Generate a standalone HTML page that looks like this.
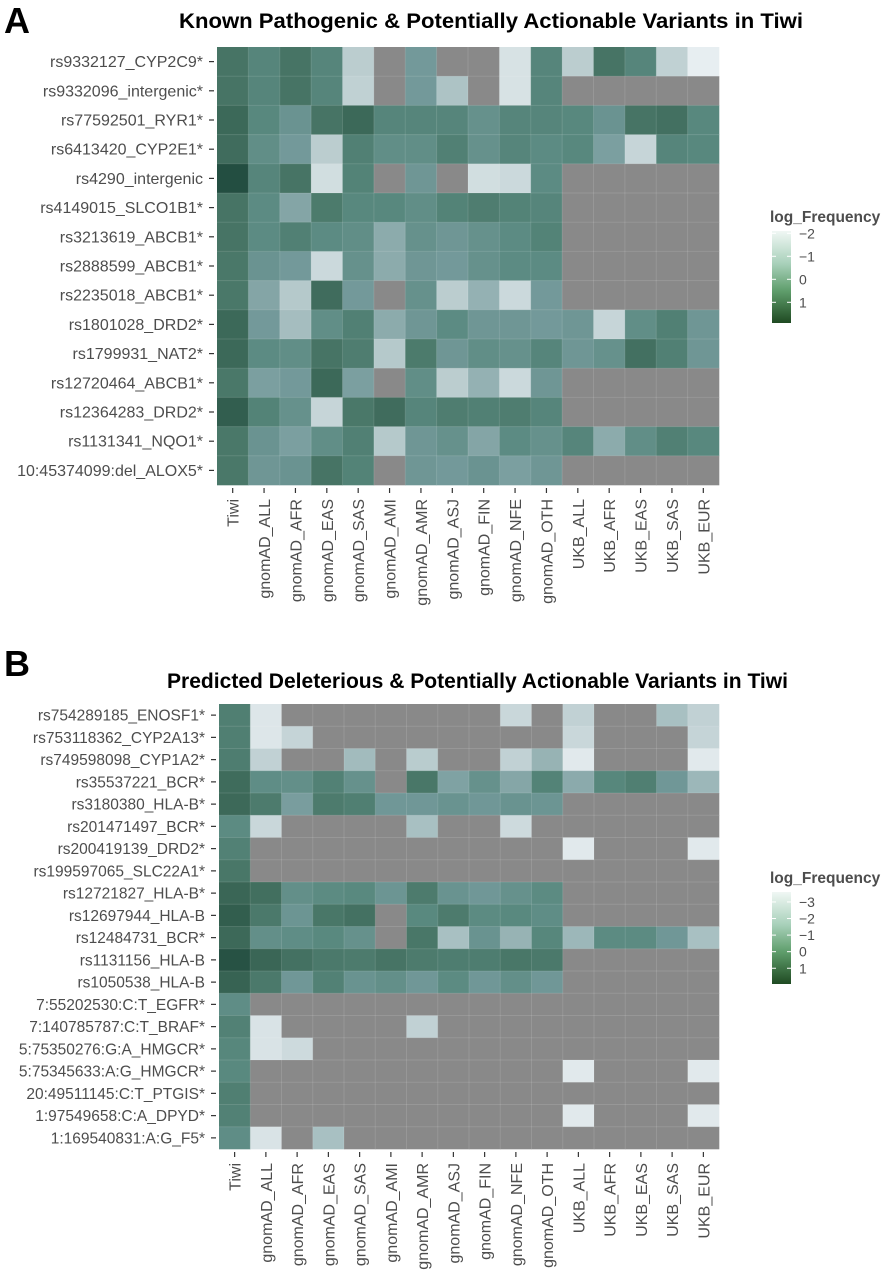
<!DOCTYPE html>
<html><head><meta charset="utf-8"><style>
body{margin:0;background:#fff;}
svg{display:block;font-family:"Liberation Sans",Arial,sans-serif;}
</style></head><body>
<svg id="fig" width="886" height="1272" viewBox="0 0 886 1272">
<text x="4" y="33" font-size="36" font-weight="bold" fill="#000">A</text>
<text x="179" y="28" font-size="21" font-weight="bold" textLength="624" lengthAdjust="spacingAndGlyphs" fill="#000">Known Pathogenic &amp; Potentially Actionable Variants in Tiwi</text>
<text x="4" y="676" font-size="36" font-weight="bold" fill="#000">B</text>
<text x="167" y="688" font-size="21" font-weight="bold" textLength="621" lengthAdjust="spacingAndGlyphs" fill="#000">Predicted Deleterious &amp; Potentially Actionable Variants in Tiwi</text>
<defs>
<linearGradient id="lg" x1="0" y1="0" x2="0" y2="1">
<stop offset="0" stop-color="#f0f7f4"/><stop offset="0.35" stop-color="#a9d1bb"/><stop offset="0.65" stop-color="#5f9e6c"/><stop offset="1" stop-color="#1f4a22"/>
</linearGradient>
</defs>
<g id="pa"></g>
<g id="pb"></g>
</svg>
<script>
const columns = ["Tiwi","gnomAD_ALL","gnomAD_AFR","gnomAD_EAS","gnomAD_SAS","gnomAD_AMI","gnomAD_AMR","gnomAD_ASJ","gnomAD_FIN","gnomAD_NFE","gnomAD_OTH","UKB_ALL","UKB_AFR","UKB_EAS","UKB_SAS","UKB_EUR"];
const N = null;
const rowsA = ["rs9332127_CYP2C9*","rs9332096_intergenic*","rs77592501_RYR1*","rs6413420_CYP2E1*","rs4290_intergenic","rs4149015_SLCO1B1*","rs3213619_ABCB1*","rs2888599_ABCB1*","rs2235018_ABCB1*","rs1801028_DRD2*","rs1799931_NAT2*","rs12720464_ABCB1*","rs12364283_DRD2*","rs1131341_NQO1*","10:45374099:del_ALOX5*"];
const valuesA = [
[1.0,0.4,1.0,0.4,-1.2,N,-0.3,N,N,-1.7,0.4,-1.2,1.0,0.4,-1.3,-2.0],
[1.0,0.4,1.0,0.4,-1.3,N,-0.3,-1.0,N,-1.7,0.4,N,N,N,N,N],
[1.3,0.3,-0.1,1.0,1.3,0.4,0.4,0.4,0.0,0.4,0.4,0.3,-0.1,1.0,1.1,0.3],
[1.2,0.1,-0.3,-1.2,0.6,0.1,0.1,0.6,0.0,0.4,0.2,0.3,-0.4,-1.4,0.4,0.3],
[1.7,0.4,1.0,-1.6,0.5,N,-0.2,N,-1.6,-1.5,0.2,N,N,N,N,N],
[1.0,0.2,-0.5,0.8,0.3,0.3,0.1,0.5,0.7,0.5,0.4,N,N,N,N,N],
[1.0,0.2,0.6,0.2,0.1,-0.6,0.0,-0.2,0.0,0.2,0.5,N,N,N,N,N],
[0.9,-0.1,-0.3,-1.5,0.0,-0.6,-0.2,-0.3,0.0,0.2,0.2,N,N,N,N,N],
[0.9,-0.5,-1.1,1.2,-0.3,N,0.0,-1.2,-0.7,-1.5,-0.3,N,N,N,N,N],
[1.3,-0.3,-0.9,0.1,0.6,-0.6,-0.2,0.2,-0.2,-0.2,-0.3,-0.2,-1.4,0.1,0.6,-0.2],
[1.3,0.2,0.1,1.0,0.7,-1.1,0.8,-0.2,0.1,0.0,0.4,-0.2,0.0,1.1,0.6,-0.2],
[0.9,-0.4,-0.3,1.3,-0.4,N,0.1,-1.2,-0.7,-1.5,-0.2,N,N,N,N,N],
[1.5,0.5,0.0,-1.4,0.9,1.2,0.4,0.7,0.6,0.7,0.4,N,N,N,N,N],
[0.9,-0.1,-0.4,0.1,0.6,-1.1,-0.2,0.0,-0.5,0.2,0.0,0.4,-0.6,0.1,0.6,0.3],
[0.9,-0.2,-0.1,1.0,0.5,N,-0.2,-0.3,-0.1,-0.4,-0.2,N,N,N,N,N]];
const ticksA = [-2,-1,0,1];
const rowsB = ["rs754289185_ENOSF1*","rs753118362_CYP2A13*","rs749598098_CYP1A2*","rs35537221_BCR*","rs3180380_HLA-B*","rs201471497_BCR*","rs200419139_DRD2*","rs199597065_SLC22A1*","rs12721827_HLA-B*","rs12697944_HLA-B","rs12484731_BCR*","rs1131156_HLA-B","rs1050538_HLA-B","7:55202530:C:T_EGFR*","7:140785787:C:T_BRAF*","5:75350276:G:A_HMGCR*","5:75345633:A:G_HMGCR*","20:49511145:C:T_PTGIS*","1:97549658:C:A_DPYD*","1:169540831:A:G_F5*"];
const valuesB = [
[0.2,-3.2,N,N,N,N,N,N,N,-2.7,N,-2.5,N,N,-2.0,-2.5],
[0.2,-3.2,-2.6,N,N,N,N,N,N,N,N,-2.7,N,N,N,-2.6],
[0.3,-2.5,N,N,-1.9,N,-2.3,N,N,-2.5,-1.7,-3.3,N,N,N,-3.3],
[1.0,-0.5,-0.6,0.1,-0.7,N,0.6,-1.3,-0.7,-1.4,0.0,-1.5,-0.2,0.2,-1.0,-1.8],
[1.1,0.4,-1.2,0.4,0.2,-1.0,-1.0,-0.8,-1.0,-0.8,-0.9,N,N,N,N,N],
[-0.4,-2.7,N,N,N,N,-2.0,N,N,-2.8,N,N,N,N,N,N],
[0.1,N,N,N,N,N,N,N,N,N,N,-3.3,N,N,N,-3.3],
[0.6,N,N,N,N,N,N,N,N,N,N,N,N,N,N,N],
[1.2,0.9,-0.6,-0.4,-0.3,-0.9,0.4,-0.8,-1.0,-0.7,-0.4,N,N,N,N,N],
[1.4,0.5,-0.9,0.6,0.8,N,-0.3,0.4,-0.4,-0.3,-0.5,N,N,N,N,N],
[1.1,-0.6,-0.5,-0.3,-0.7,N,0.6,-2.0,-0.8,-1.7,-0.2,-1.8,-0.4,-0.4,-1.0,-2.0],
[1.6,1.2,0.8,0.5,0.4,0.7,0.4,0.3,0.3,0.6,0.5,N,N,N,N,N],
[1.3,0.5,-1.0,0.1,-0.8,-0.6,-1.0,-0.4,-1.0,-0.6,-1.0,N,N,N,N,N],
[-0.5,N,N,N,N,N,N,N,N,N,N,N,N,N,N,N],
[0.1,-3.1,N,N,N,N,-2.5,N,N,N,N,N,N,N,N,N],
[-0.2,-3.1,-2.8,N,N,N,N,N,N,N,N,N,N,N,N,N],
[-0.3,N,N,N,N,N,N,N,N,N,N,-3.3,N,N,N,-3.3],
[0.2,N,N,N,N,N,N,N,N,N,N,N,N,N,N,N],
[0.1,N,N,N,N,N,N,N,N,N,N,-3.3,N,N,N,-3.3],
[-0.5,-3.1,N,-2.0,N,N,N,N,N,N,N,N,N,N,N,N]];
const ticksB = [-3,-2,-1,0,1];

const NS="http://www.w3.org/2000/svg";
const stops=[[0,[237,242,245]],[0.25,[181,201,203]],[0.45,[115,153,154]],[0.6,[88,136,126]],[0.75,[74,120,105]],[0.88,[56,100,84]],[1,[20,63,51]]];
function colorAt(t){t=Math.max(0,Math.min(1,t));for(let i=1;i<stops.length;i++){if(t<=stops[i][0]){const a=stops[i-1],b=stops[i];const f=(t-a[0])/(b[0]-a[0]);const c=a[1].map((v,k)=>Math.round(v+(b[1][k]-v)*f));return `rgb(${c.join(',')})`;}}return 'rgb(20,63,51)';}
function mk(tag,attrs,parent){const e=document.createElementNS(NS,tag);for(const k in attrs)e.setAttribute(k,attrs[k]);parent.appendChild(e);return e;}

function drawPanel(g,rows,vals,ticks,cfg){
  const x0=cfg.x0,x1=cfg.x1,y0=cfg.y0,y1=cfg.y1;
  const cw=(x1-x0)/columns.length, rh=(y1-y0)/rows.length;
  const xScale=i=>x0+i*cw, yScale=j=>y0+j*rh;
  const tScale=v=>(v-cfg.dmin)/(cfg.dmax-cfg.dmin);
  rows.forEach((r,j)=>{
    const lab=mk('text',{x:x0-14,y:yScale(j)+rh/2+5.5,'font-size':cfg.fs,'text-anchor':'end',fill:'#4d4d4d'},g);
    lab.textContent=r;
    
    
    mk('line',{x1:x0-8,x2:x0-3,y1:yScale(j)+rh/2,y2:yScale(j)+rh/2,stroke:'#333','stroke-width':1.2},g);
    vals[j].forEach((v,i)=>{
      const c=mk('rect',{x:xScale(i),y:yScale(j),width:cw+0.3,height:rh+0.3,fill:v===null?'#898989':colorAt(tScale(v))},g);
      
      
    });
  });
  for(let i=1;i<columns.length;i++)mk('line',{x1:xScale(i),x2:xScale(i),y1:y0,y2:y1,stroke:'rgba(255,255,255,0.12)','stroke-width':1},g);
  for(let j=1;j<rows.length;j++)mk('line',{x1:x0,x2:x1,y1:yScale(j),y2:yScale(j),stroke:'rgba(255,255,255,0.12)','stroke-width':1},g);
  columns.forEach((c,i)=>{
    const cx=xScale(i)+cw/2;
    mk('line',{x1:cx,x2:cx,y1:y1+3,y2:y1+8,stroke:'#333','stroke-width':1.2},g);
    const t=mk('text',{x:0,y:0,'font-size':16,'text-anchor':'end',fill:'#4d4d4d',transform:`translate(${cx+6},${y1+14}) rotate(-90)`},g);
    t.textContent=c;
    
    
  });
  const lt=mk('text',{x:cfg.lx-2,y:cfg.ly0-9,'font-size':15.5,'font-weight':'bold',fill:'#4d4d4d'},g);
  lt.textContent='log_Frequency';
  
  
  const bar=mk('rect',{x:cfg.lx,y:cfg.ly0,width:19,height:cfg.ly1-cfg.ly0,fill:'url(#lg)'},g);
  
  
  const ls=v=>cfg.ly0+(v-cfg.dmin)/(cfg.dmax-cfg.dmin)*(cfg.ly1-cfg.ly0);
  ticks.forEach(v=>{
    const y=ls(v);
    mk('line',{x1:cfg.lx,x2:cfg.lx+4,y1:y,y2:y,stroke:'#fff','stroke-width':1},g);
    mk('line',{x1:cfg.lx+15,x2:cfg.lx+19,y1:y,y2:y,stroke:'#fff','stroke-width':1},g);
    const tl=mk('text',{x:cfg.lx+27,y:y+5,'font-size':14,fill:'#4d4d4d'},g);
    tl.textContent=v<0?'\u2212'+Math.abs(v):String(v);
    
    
  });
}
drawPanel(document.getElementById('pa'),rowsA,valuesA,ticksA,{x0:217,x1:719,y0:47,y1:485,dmin:-2.1,dmax:1.9,lx:772,ly0:231,ly1:323,fs:16});
drawPanel(document.getElementById('pb'),rowsB,valuesB,ticksB,{x0:219,x1:719,y0:704,y1:1149,dmin:-3.6,dmax:1.95,lx:772,ly0:892,ly1:984,fs:15.5});
</script>
</body></html>
